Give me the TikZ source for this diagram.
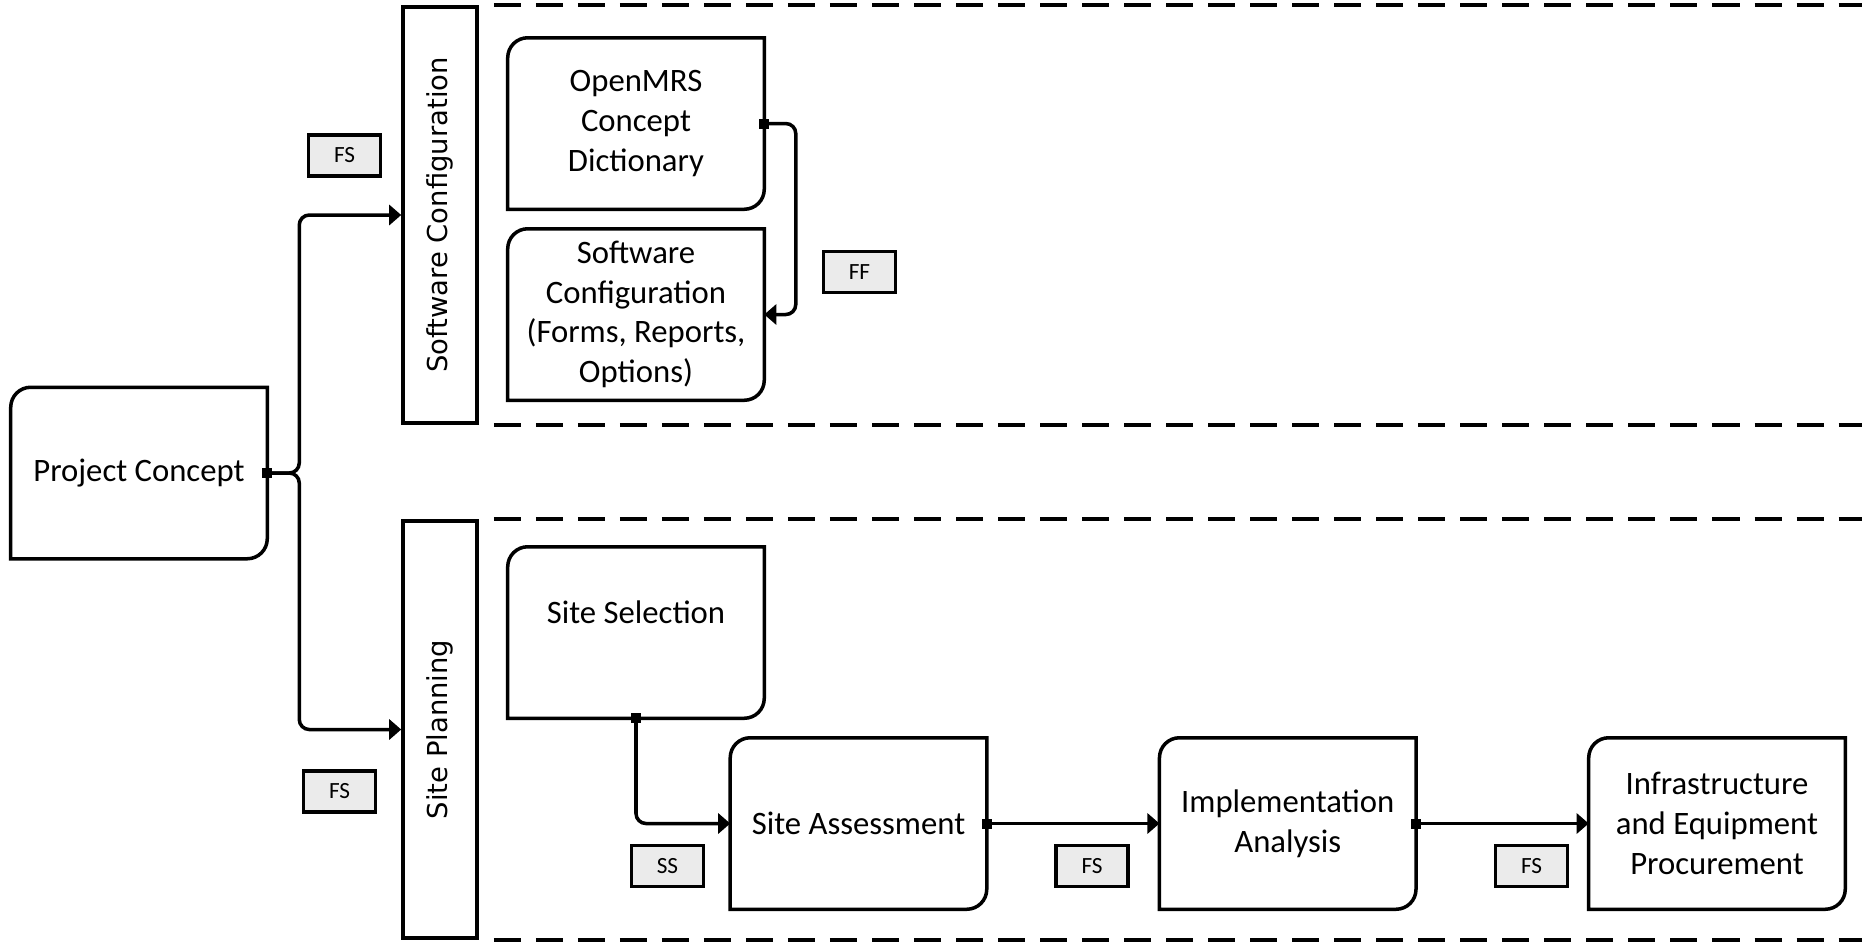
\documentclass[tikz,border=0pt]{standalone}
\usepackage{fontspec}
\setmainfont{Carlito}
\newfontfamily\lanefont{DejaVu Sans}
\usetikzlibrary{arrows.meta}
\usetikzlibrary{positioning}
\definecolor{tagfill}{HTML}{EBEBEB}

\begin{document}
\begin{tikzpicture}[x=0.01cm,y=-0.01cm,node distance=4.29cm,on grid,
   task/.style={minimum width=2.55cm,minimum height=1.7cm,inner sep=0pt,align=center,font=\fontsize{9.3}{11.3}\selectfont},
   lane/.style={draw,line width=1pt,minimum width=0.74cm,inner sep=0pt,font=\lanefont\fontsize{7.8}{9}\selectfont},
   tag/.style={draw,line width=1pt,fill=tagfill,minimum width=0.72cm,minimum height=0.41cm,inner sep=0pt,font=\fontsize{6.6}{7.8}\selectfont},
   link/.style={line width=1pt,rounded corners=0.1cm,shorten <=-0.05cm,
      {Square[length=0.1cm,width=0.1cm]}-{Triangle[length=0.12cm,width=0.2cm]}},
   lanebound/.style={line width=1pt,dash pattern=on 0.27cm off 0.15cm,dash phase=0.27cm}]
   \clip (0,0) rectangle (1862,941);
   \node[lane,minimum height=4.16cm] (swlane) at (440,215) {\rotatebox{90}{Software Configuration}};
   \node[lane,minimum height=4.17cm] (splane) at (440,729.5) {\rotatebox{90}{Site Planning}};
   \draw[lanebound] (swlane.north east) -- ++(1500,0);
   \draw[lanebound] (swlane.south east) -- ++(1500,0);
   \draw[lanebound] (splane.north east) -- ++(1500,0);
   \draw[lanebound] (splane.south east) -- ++(1500,0);

   \node[task] (concept) at (139,473) {Project Concept};
   \node[task] (dict) at (636,123.5) {OpenMRS\\Concept\\Dictionary};
   \node[task] (swconf) at (636,314.5) {Software\\Configuration\\(Forms, Reports,\\Options)};
   \node[task] (select) at (636,632.5) {Site Selection\\\mbox{}};
   \node[task] (assess) at (858.5,823.5) {Site Assessment};
   \node[task] (analysis) [right=of assess] {Implementation\\Analysis};
   \node[task] (procure) [right=of analysis] {Infrastructure\\and Equipment\\Procurement};
   \foreach \n in {concept,dict,swconf,select,assess,analysis,procure}
     \draw[line width=1pt] (\n.south west) -- ([yshift=-0.2cm]\n.north west)
        arc[start angle=180,end angle=90,radius=0.2cm] -- (\n.north east)
        -- ([yshift=0.2cm]\n.south east) arc[start angle=0,end angle=-90,radius=0.2cm] -- cycle;

   \draw[link] (concept.east) -- ++(32,0) |- (swlane.west);
   \draw[link] (concept.east) -- ++(32,0) |- (splane.west);
   \draw[link] (dict.east) -- ++(31.5,0) |- (swconf.east);
   \draw[link] (select.south) |- (assess.west);
   \draw[link] (assess.east) -- (analysis.west);
   \draw[link] (analysis.east) -- (procure.west);

   \node[tag] (fsconf) at (344.5,155.5) {FS};
   \node[tag] (ffdict) at (859.5,272) {FF};
   \node[tag] (fsplan) at (339.5,791.5) {FS};
   \node[tag] (ssselect) at (667.5,866) {SS};
   \node[tag] (fsassess) at (1092,866) {FS};
   \node[tag] (fsanalysis) at (1531.5,866) {FS};
\end{tikzpicture}
\end{document}
